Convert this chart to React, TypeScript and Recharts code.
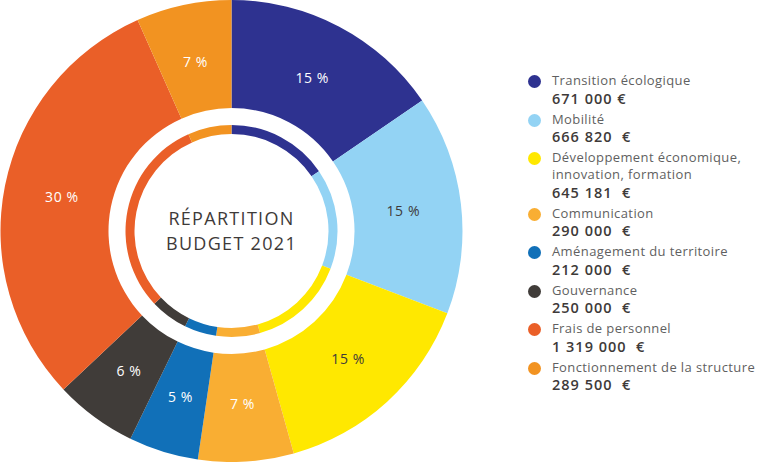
import { PieChart, Pie, Cell, Legend, Label } from "recharts"

document.body.style.margin = "0"

const categories = [
  "Transition écologique",
  "Mobilité",
  "Développement économique,\ninnovation, formation",
  "Communication",
  "Aménagement du territoire",
  "Gouvernance",
  "Frais de personnel",
  "Fonctionnement de la structure",
]
const amounts = [671000, 666820, 645181, 290000, 212000, 250000, 1319000, 289500]
const amountLabels = [
  "671 000 €",
  "666 820  €",
  "645 181  €",
  "290 000  €",
  "212 000  €",
  "250 000  €",
  "1 319 000  €",
  "289 500  €",
]
const centerTitle = ["RÉPARTITION", "BUDGET 2021"]
const colors = ["#2e3290", "#93d3f4", "#ffe800", "#f9ae33", "#1170b8", "#403c39", "#ea5f28", "#f29321"]
const darkLabel = [false, true, true, false, false, false, false, false]

const data = categories.map((name, i) => ({ name, value: amounts[i] }))

const FONT = "'Open Sans', sans-serif"
const RAD = Math.PI / 180

const renderPct = (props: any) => {
  const { cx, cy, midAngle, innerRadius, outerRadius, percent, index } = props
  const r = (innerRadius + outerRadius) / 2 - 4
  const x = cx + r * Math.cos(-midAngle * RAD)
  const y = cy + r * Math.sin(-midAngle * RAD)
  return (
    <text
      x={x}
      y={y}
      fill={darkLabel[index] ? "#3e3a39" : "#ffffff"}
      textAnchor="middle"
      dominantBaseline="central"
      fontFamily={FONT}
      fontSize={14}
      letterSpacing={0.6}
    >
      {`${Math.round(percent * 100)} %`}
    </text>
  )
}

const renderLegend = () => (
  <div style={{ fontFamily: FONT, color: "#5f5f61" }}>
    {categories.map((name, i) => (
      <div key={name} style={{ position: "relative", paddingLeft: 27, marginBottom: 3 }}>
        <span
          style={{
            position: "absolute",
            left: 3,
            top: 3,
            width: 13,
            height: 13,
            borderRadius: "50%",
            background: colors[i],
          }}
        />
        <div style={{ fontSize: 13, lineHeight: "17px", whiteSpace: "pre-line", letterSpacing: 0.4 }}>
          {name}
        </div>
        <div
          style={{
            fontSize: 14.5,
            lineHeight: "18px",
            marginTop: 0.5,
            fontWeight: 600,
            color: "#3e3a39",
            letterSpacing: 1,
            whiteSpace: "pre",
          }}
        >
          {amountLabels[i]}
        </div>
      </div>
    ))}
  </div>
)

export default function App() {
  return (
    <PieChart width={768} height={462} margin={{ top: 0, right: 0, bottom: 0, left: 0 }}>
      <Pie
        data={data}
        dataKey="value"
        cx={231.5}
        cy={231}
        innerRadius={123}
        outerRadius={231}
        startAngle={90}
        endAngle={-270}
        stroke="none"
        label={renderPct}
        labelLine={false}
        isAnimationActive={false}
      >
        {data.map((d, i) => (
          <Cell key={d.name} fill={colors[i]} />
        ))}
      </Pie>
      <Pie
        data={data}
        dataKey="value"
        cx={231.5}
        cy={231}
        innerRadius={97}
        outerRadius={106}
        startAngle={90}
        endAngle={-270}
        stroke="none"
        isAnimationActive={false}
      >
        {data.map((d, i) => (
          <Cell key={d.name} fill={colors[i]} />
        ))}
        <Label
          position="center"
          content={(p: any) => {
            const vb = p.viewBox || {}
            const cx = vb.cx ?? 231.5
            const cy = vb.cy ?? 231
            return (
              <g>
                {centerTitle.map((t, i) => (
                  <text
                    key={t}
                    x={cx}
                    y={cy - 6 + i * 25}
                    textAnchor="middle"
                    fontFamily={FONT}
                    fontSize={18}
                    fontWeight={500}
                    letterSpacing={1.3}
                    fill="#3e3a39"
                  >
                    {t}
                  </text>
                ))}
              </g>
            )
          }}
        />
      </Pie>
      <Legend
        content={renderLegend}
        wrapperStyle={{ position: "absolute", left: 525, top: 72, width: 243 }}
      />
    </PieChart>
  )
}
